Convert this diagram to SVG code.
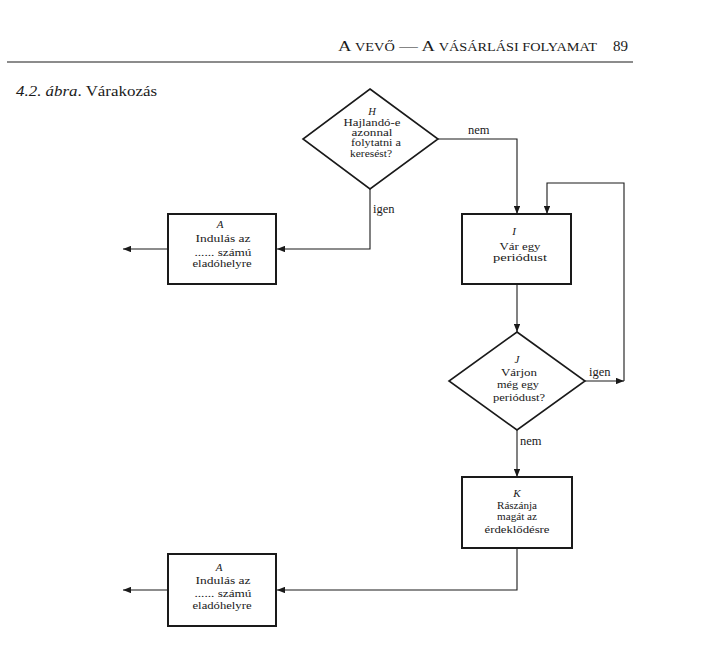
<svg xmlns="http://www.w3.org/2000/svg" width="713" height="657" viewBox="0 0 713 657">
<style>
text{font-family:"Liberation Serif","Times New Roman",serif;fill:#1a1a1a;}
.t{font-size:11px;text-anchor:middle;}
.h{font-size:10.5px;text-anchor:middle;}
.i{font-style:italic;}
.lbl{font-size:12.5px;}
.box{fill:#fff;stroke:#1a1a1a;stroke-width:2;}
.dia{fill:#fff;stroke:#1a1a1a;stroke-width:1.6;}
.c{fill:none;stroke:#1a1a1a;stroke-width:1.1;}
</style>
<defs>
<marker id="ah" viewBox="0 0 10 8" refX="10" refY="4" markerWidth="8" markerHeight="6.4" markerUnits="userSpaceOnUse" orient="auto">
<path d="M0,0 L10,4 L0,8 z" fill="#1a1a1a"/>
</marker>
</defs>
<rect width="713" height="657" fill="#fff"/>
<g id="header">
<text x="338" y="51" font-size="15" textLength="259" lengthAdjust="spacingAndGlyphs">A <tspan font-size="11.5">VEVŐ</tspan> — A <tspan font-size="11.5">VÁSÁRLÁSI FOLYAMAT</tspan></text>
<text x="628" y="51" font-size="15" text-anchor="end">89</text>
<line x1="7" y1="62" x2="633" y2="62" stroke="#1a1a1a" stroke-width="1.2"/>
<text x="16" y="96" font-size="14.5" textLength="141" lengthAdjust="spacingAndGlyphs"><tspan class="i">4.2. ábra</tspan>. Várakozás</text>
</g>
<g id="connectors">
<path class="c" d="M438,139 H517 V214" marker-end="url(#ah)"/>
<path class="c" d="M370,189 V249 H277" marker-end="url(#ah)"/>
<path class="c" d="M168,249 H123" marker-end="url(#ah)"/>
<path class="c" d="M517,284 V332" marker-end="url(#ah)"/>
<path class="c" d="M585,381 H624" marker-end="url(#ah)"/>
<path class="c" d="M624,381 V183 H547 V214" marker-end="url(#ah)"/>
<path class="c" d="M517,430 V477" marker-end="url(#ah)"/>
<path class="c" d="M517,548 V590 H277" marker-end="url(#ah)"/>
<path class="c" d="M168,590 H123" marker-end="url(#ah)"/>
<text class="lbl" x="468" y="134">nem</text>
<text class="lbl" x="373" y="213">igen</text>
<text class="lbl" x="589" y="376">igen</text>
<text class="lbl" x="520" y="445">nem</text>
</g>
<g id="nodeH">
<polygon class="dia" points="370,89 438,139 370,189 303,139"/>
<text class="h i" x="372" y="114.5">H</text>
<text class="h" x="372" y="125.5" textLength="57" lengthAdjust="spacingAndGlyphs">Hajlandó-e</text>
<text class="h" x="372" y="135.5" textLength="41" lengthAdjust="spacingAndGlyphs">azonnal</text>
<text class="h" x="376" y="146" textLength="50" lengthAdjust="spacingAndGlyphs">folytatni a</text>
<text class="h" x="371" y="156.5" textLength="42" lengthAdjust="spacingAndGlyphs">keresést?</text>
</g>
<g id="nodeA1">
<rect class="box" x="168" y="214" width="108" height="70"/>
<text class="t i" x="220" y="228">A</text>
<text class="t" x="223" y="242" textLength="55" lengthAdjust="spacingAndGlyphs">Indulás az</text>
<text class="t" x="223" y="255.5" textLength="57" lengthAdjust="spacingAndGlyphs">...... számú</text>
<text class="t" x="222" y="267" textLength="59" lengthAdjust="spacingAndGlyphs">eladóhelyre</text>
</g>
<g id="nodeI">
<rect class="box" x="462" y="214" width="109" height="70"/>
<text class="t i" x="514" y="235">I</text>
<text class="t" x="520" y="249.5" textLength="41" lengthAdjust="spacingAndGlyphs">Vár egy</text>
<text class="t" x="520" y="261" textLength="54" lengthAdjust="spacingAndGlyphs">periódust</text>
</g>
<g id="nodeJ">
<polygon class="dia" points="517,332 585,381 517,430 449,381"/>
<text class="t i" x="517" y="362.5">J</text>
<text class="t" x="519" y="375.5" textLength="36" lengthAdjust="spacingAndGlyphs">Várjon</text>
<text class="t" x="518" y="387.5" textLength="42" lengthAdjust="spacingAndGlyphs">még egy</text>
<text class="t" x="519" y="400.5" textLength="52" lengthAdjust="spacingAndGlyphs">periódust?</text>
</g>
<g id="nodeK">
<rect class="box" x="462" y="477" width="110" height="71"/>
<text class="t i" x="517" y="496.5">K</text>
<text class="t" x="517" y="508.5" textLength="40" lengthAdjust="spacingAndGlyphs">Rászánja</text>
<text class="t" x="517" y="520" textLength="40" lengthAdjust="spacingAndGlyphs">magát az</text>
<text class="t" x="517" y="533" textLength="65" lengthAdjust="spacingAndGlyphs">érdeklődésre</text>
</g>
<g id="nodeA2">
<rect class="box" x="168" y="554" width="108" height="72"/>
<text class="t i" x="219" y="571">A</text>
<text class="t" x="223" y="583.5" textLength="55" lengthAdjust="spacingAndGlyphs">Indulás az</text>
<text class="t" x="223" y="596.5" textLength="57" lengthAdjust="spacingAndGlyphs">...... számú</text>
<text class="t" x="222" y="609" textLength="59" lengthAdjust="spacingAndGlyphs">eladóhelyre</text>
</g>
</svg>
